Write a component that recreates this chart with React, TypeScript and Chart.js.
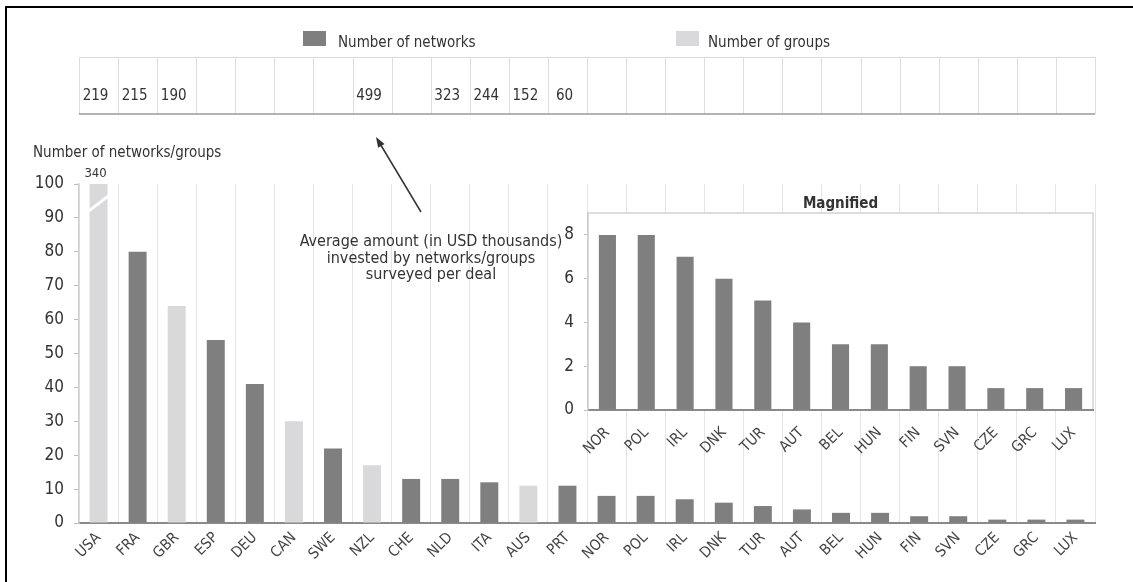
import React, { useEffect, useRef } from "react";
import { Chart, registerables } from "chart.js";

Chart.register(...registerables);

// ---------- data ----------
const categories = [
  "USA", "FRA", "GBR", "ESP", "DEU", "CAN", "SWE", "NZL", "CHE", "NLD", "ITA", "AUS", "PRT",
  "NOR", "POL", "IRL", "DNK", "TUR", "AUT", "BEL", "HUN", "FIN", "SVN", "CZE", "GRC", "LUX",
];
const networks: (number | null)[] = [
  null, 80, null, 54, 41, null, 22, null, 13, 13, 12, null, 11,
  8, 8, 7, 6, 5, 4, 3, 3, 2, 2, 1, 1, 1,
];
const groups: (number | null)[] = [
  340, null, 64, null, null, 30, null, 17, null, null, null, 11, null,
  null, null, null, null, null, null, null, null, null, null, null, null, null,
];
const averageInvested: (number | null)[] = [
  219, 215, 190, null, null, null, null, 499, null, 323, 244, 152, 60,
  null, null, null, null, null, null, null, null, null, null, null, null, null,
];
const magnifiedCategories = ["NOR", "POL", "IRL", "DNK", "TUR", "AUT", "BEL", "HUN", "FIN", "SVN", "CZE", "GRC", "LUX"];
const magnifiedNetworks = [8, 8, 7, 6, 5, 4, 3, 3, 2, 2, 1, 1, 1];
const mainMax = 100;
const mainStep = 10;
const magnifiedMax = 9;
const magnifiedStep = 2;
const legendLabels = ["Number of networks", "Number of groups"];
const yTitle = "Number of networks/groups";
const insetTitle = "Magnified";
const annotationLines = [
  "Average amount (in USD thousands)",
  "invested by networks/groups",
  "surveyed per deal",
];

// ---------- styles ----------
const FONT = "'Liberation Sans Narrow', 'Arial Narrow', 'DejaVu Sans Condensed', sans-serif";
const NET_COLOR = "#7f7f7f";
const GRP_COLOR = "#d9d9db";
const TEXT = "#333333";
const W = 1133;
const H = 582;

const mainDecor = {
  id: "mainDecor",
  afterDraw(chart: any) {
    const ctx = chart.ctx as CanvasRenderingContext2D;
    const xs = chart.scales.x;
    const ys = chart.scales.y;
    const step = xs.getPixelForValue(1) - xs.getPixelForValue(0);
    ctx.save();

    // broken USA bar marker + value label
    const gMeta = chart.getDatasetMeta(1);
    const bar = gMeta.data[0] as any;
    if (bar) {
      const half = bar.width / 2 + 1;
      ctx.strokeStyle = "#ffffff";
      ctx.lineWidth = 3;
      ctx.beginPath();
      ctx.moveTo(bar.x - half, ys.getPixelForValue(92));
      ctx.lineTo(bar.x + half, ys.getPixelForValue(96.5));
      ctx.stroke();
      ctx.fillStyle = TEXT;
      ctx.font = `13px ${FONT}`;
      ctx.textAlign = "center";
      ctx.textBaseline = "middle";
      ctx.fillText(String(groups[0]), bar.x - 3, chart.chartArea.top - 10);
    }

    // table of average amounts
    const tTop = 57;
    const tBot = 114;
    const left = xs.getPixelForValue(0) - step / 2;
    const right = xs.getPixelForValue(categories.length - 1) + step / 2;
    ctx.strokeStyle = "#dcdcdc";
    ctx.lineWidth = 1;
    ctx.beginPath();
    ctx.moveTo(left, tTop + 0.5);
    ctx.lineTo(right, tTop + 0.5);
    for (let i = 0; i <= categories.length; i++) {
      const xx = Math.round(left + i * step) + 0.5;
      ctx.moveTo(xx, tTop);
      ctx.lineTo(xx, tBot);
    }
    ctx.stroke();
    ctx.strokeStyle = "#9a9a9a";
    ctx.lineWidth = 1.5;
    ctx.beginPath();
    ctx.moveTo(left, tBot);
    ctx.lineTo(right, tBot);
    ctx.stroke();
    ctx.fillStyle = TEXT;
    ctx.font = `15px ${FONT}`;
    ctx.textAlign = "center";
    ctx.textBaseline = "middle";
    averageInvested.forEach((v, i) => {
      if (v !== null) ctx.fillText(String(v), xs.getPixelForValue(i) - 3, 96);
    });

    // legend
    ctx.font = `15px ${FONT}`;
    ctx.textAlign = "left";
    ctx.fillStyle = NET_COLOR;
    ctx.fillRect(303, 31, 23, 15);
    ctx.fillStyle = GRP_COLOR;
    ctx.fillRect(676, 31, 23, 15);
    ctx.fillStyle = TEXT;
    ctx.fillText(legendLabels[0], 338, 43);
    ctx.fillText(legendLabels[1], 708, 43);

    // axis title
    ctx.font = `15px ${FONT}`;
    ctx.fillText(yTitle, 33, 153);

    // annotation
    ctx.font = `16px ${FONT}`;
    ctx.textAlign = "center";
    annotationLines.forEach((l, i) => ctx.fillText(l, 431, 242 + i * 16.5));

    // arrow
    const ax0 = 421, ay0 = 212, ax1 = 376, ay1 = 137;
    ctx.strokeStyle = "#333";
    ctx.lineWidth = 1.5;
    ctx.beginPath();
    ctx.moveTo(ax0, ay0);
    ctx.lineTo(ax1 + 3, ay1 + 5);
    ctx.stroke();
    const ang = Math.atan2(ay1 - ay0, ax1 - ax0);
    ctx.fillStyle = "#333";
    ctx.beginPath();
    ctx.moveTo(ax1, ay1);
    ctx.lineTo(ax1 - 11 * Math.cos(ang - 0.35), ay1 - 11 * Math.sin(ang - 0.35));
    ctx.lineTo(ax1 - 11 * Math.cos(ang + 0.35), ay1 - 11 * Math.sin(ang + 0.35));
    ctx.closePath();
    ctx.fill();

    ctx.restore();
  },
};

const insetDecor = {
  id: "insetDecor",
  beforeDraw(chart: any) {
    const ctx = chart.ctx as CanvasRenderingContext2D;
    const a = chart.chartArea;
    ctx.save();
    ctx.fillStyle = "#ffffff";
    ctx.fillRect(a.left, a.top, a.right - a.left, a.bottom - a.top);
    ctx.strokeStyle = "#d4d4d4";
    ctx.lineWidth = 1.5;
    ctx.strokeRect(a.left, a.top, a.right - a.left, a.bottom - a.top);
    ctx.fillStyle = TEXT;
    ctx.font = `bold 15px ${FONT}`;
    ctx.textAlign = "center";
    ctx.textBaseline = "middle";
    ctx.fillText(insetTitle, (a.left + a.right) / 2, a.top - 9);
    ctx.restore();
  },
};

export default function App() {
  const mainRef = useRef<HTMLCanvasElement>(null);
  const insetRef = useRef<HTMLCanvasElement>(null);

  useEffect(() => {
    const main = new Chart(mainRef.current!, {
      type: "bar",
      data: {
        labels: categories,
        datasets: [
          { label: legendLabels[0], data: networks, backgroundColor: NET_COLOR, grouped: false } as any,
          { label: legendLabels[1], data: groups, backgroundColor: GRP_COLOR, grouped: false } as any,
        ],
      },
      options: {
        responsive: false,
        animation: false,
        devicePixelRatio: 1,
        layout: { padding: { left: 0, top: 184, right: 38, bottom: 0 } },
        datasets: { bar: { categoryPercentage: 1, barPercentage: 0.46 } },
        plugins: { legend: { display: false }, tooltip: { enabled: false }, title: { display: false } },
        scales: {
          x: {
            type: "category",
            offset: true,
            grid: { offset: true, color: "#e4e4e4", drawTicks: false, lineWidth: 1 },
            border: { color: "#8a8a8a", width: 2 },
            ticks: {
              autoSkip: false,
              maxRotation: 45,
              minRotation: 45,
              color: "#444",
              padding: 6,
              font: { family: FONT, size: 15 },
            },
            afterFit: (s: any) => { s.height = H - 523; },
          },
          y: {
            min: 0,
            max: mainMax,
            ticks: { stepSize: mainStep, color: TEXT, padding: 10, font: { family: FONT, size: 17 } },
            grid: { drawOnChartArea: false, drawTicks: true, tickLength: 5, color: "#bdbdbd" },
            border: { color: "#cfcfcf", width: 1.5 },
            afterFit: (s: any) => { s.width = 79; },
          },
        },
      },
      plugins: [mainDecor],
    });

    const inset = new Chart(insetRef.current!, {
      type: "bar",
      data: {
        labels: magnifiedCategories,
        datasets: [{ label: legendLabels[0], data: magnifiedNetworks, backgroundColor: NET_COLOR }],
      },
      options: {
        responsive: false,
        animation: false,
        devicePixelRatio: 1,
        layout: { padding: { left: 0, top: 28, right: 40, bottom: 0 } },
        datasets: { bar: { categoryPercentage: 1, barPercentage: 0.44 } },
        plugins: { legend: { display: false }, tooltip: { enabled: false }, title: { display: false } },
        scales: {
          x: {
            type: "category",
            offset: true,
            grid: { display: false },
            border: { color: "#8a8a8a", width: 2 },
            ticks: {
              autoSkip: false,
              maxRotation: 45,
              minRotation: 45,
              color: "#444",
              padding: 6,
              font: { family: FONT, size: 15 },
            },
            afterFit: (s: any) => { s.height = 55; },
          },
          y: {
            min: 0,
            max: magnifiedMax,
            ticks: { stepSize: magnifiedStep, color: TEXT, padding: 10, font: { family: FONT, size: 17 } },
            afterBuildTicks: (s: any) => {
              s.ticks = s.ticks.filter((t: any) => t.value % magnifiedStep === 0);
            },
            grid: { drawOnChartArea: false, drawTicks: true, tickLength: 4, color: "#bdbdbd" },
            border: { color: "#cfcfcf", width: 1.5 },
            afterFit: (s: any) => { s.width = 48; },
          },
        },
      },
      plugins: [insetDecor],
    });

    return () => {
      main.destroy();
      inset.destroy();
    };
  }, []);

  return (
    <div
      style={{
        position: "fixed",
        left: 0,
        top: 0,
        width: W,
        height: H,
        background: "#ffffff",
        overflow: "hidden",
      }}
    >
      <canvas ref={mainRef} width={W} height={H} style={{ position: "absolute", left: 0, top: 0, width: W, height: H }} />
      <canvas ref={insetRef} width={593} height={280} style={{ position: "absolute", left: 540, top: 185, width: 593, height: 280 }} />
      <div
        style={{
          position: "absolute",
          left: 5,
          top: 6,
          width: W + 20,
          height: H + 20,
          borderLeft: "2px solid #000",
          borderTop: "2px solid #000",
          pointerEvents: "none",
        }}
      />
    </div>
  );
}
